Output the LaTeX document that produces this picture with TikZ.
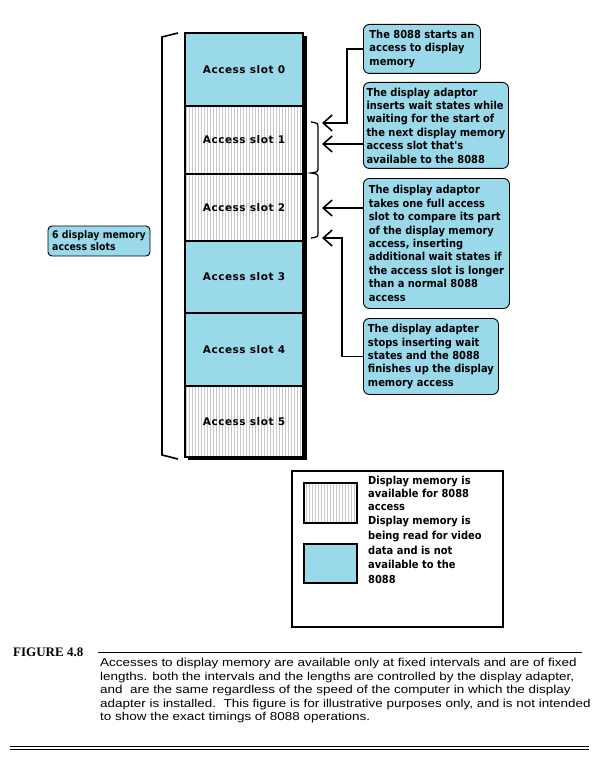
\documentclass[tikz,border=0pt]{standalone}
\usepackage{fontspec}
\newfontfamily\boxfont[FakeStretch=0.9]{DejaVu Sans}
\newfontfamily\slotfont[LetterSpace=5]{DejaVu Sans}
\newfontfamily\capfont[FakeStretch=1.17]{Liberation Sans}
\newfontfamily\figfont{Liberation Serif}
\usetikzlibrary{arrows.meta,patterns}
\definecolor{memblue}{RGB}{153,217,234}

\begin{document}
\begin{tikzpicture}[x=1pt, y=-1pt,
    slot/.style={draw, line width=2pt, minimum width=118pt, minimum height=#1pt, inner sep=0pt,
      font=\slotfont\bfseries\fontsize{10.5}{12}\selectfont},
    busy/.style={slot=#1, fill=memblue},
    free/.style={slot=#1, preaction={fill=white}, pattern=vertical lines, pattern color=black!22},
    note/.style={draw, line width=0.9pt, rounded corners=6pt, fill=memblue, align=left,
      anchor=north west, inner sep=3pt, font=\boxfont\bfseries\fontsize{11}{13.4}\selectfont},
    keytext/.style={anchor=north west, align=left, inner sep=0pt,
      font=\boxfont\bfseries\fontsize{11}{14.8}\selectfont},
    arr/.style={-{Straight Barb[length=9pt,width=16pt]}, line width=1.6pt}]

    % 背景
    \fill[white] (0,0) rectangle (606,778);
    \useasboundingbox (0,0) rectangle (606,778);

    % スロットの影
    \fill (188,36) rectangle (307,460);

    % アクセススロット
    \node[busy=73] (s0) at (244,69.5) {Access slot 0};
    \node[free=68] (s1) at (244,140) {Access slot 1};
    \node[free=67] (s2) at (244,207.5) {Access slot 2};
    \node[busy=72] (s3) at (244,277) {Access slot 3};
    \node[busy=73] (s4) at (244,349.5) {Access slot 4};
    \node[free=71] (s5) at (244,421.5) {Access slot 5};

    % 左の括弧とラベル
    \draw[line width=1.6pt] (178,33) -- (162,37) -- (162,455) -- (178,459);
    \node[note, anchor=center, rounded corners=4pt, minimum width=102pt, minimum height=30pt,
      font=\boxfont\bfseries\fontsize{10.4}{12.2}\selectfont] (lbl) at (99,241) {6 display memory\\access slots};

    % 右の括弧
    \draw[line width=1.3pt] (311,122) .. controls (318,123) .. (318,129) -- (318,167)
      .. controls (318,172) .. (311,173) .. controls (318,174) .. (318,179) -- (318,232)
      .. controls (318,237) .. (311,238);

    % 説明の吹き出し
    \node[note, minimum width=117pt, minimum height=49pt] (c1) at (363,24)
      {The 8088 starts an\\access to display\\memory};
    \node[note, minimum width=145pt, minimum height=86pt] (c2) at (363,82)
      {The display adaptor\\inserts wait states while\\waiting for the start of\\the next display memory\\access slot that's\\available to the 8088};
    \node[note, minimum width=146pt, minimum height=130pt] (c3) at (363,178)
      {The display adaptor\\takes one full access\\slot to compare its part\\of the display memory\\access, inserting\\additional wait states if\\the access slot is longer\\than a normal 8088\\access};
    \node[note, minimum width=135pt, minimum height=76pt] (c4) at (363,318)
      {The display adapter\\stops inserting wait\\states and the 8088\\finishes up the display\\memory access};

    % 矢印
    \coordinate (t1) at (322,123);
    \coordinate (t2) at (322,144);
    \coordinate (t3) at (322,208);
    \coordinate (t4) at (322,238);
    \draw[arr] (c1.west) -- ++(-16,0) |- (t1);
    \draw[arr] (c2.west |- t2) -- (t2);
    \draw[arr] (c3.west |- t3) -- (t3);
    \draw[arr] (c4.west) -- ++(-21,0) |- (t4);

    % 凡例
    \draw[line width=2pt] (292,471) rectangle (503,627);
    \node[free=40, minimum width=53pt] (kfree) at (330.5,503) {};
    \node[busy=39, minimum width=53pt] (kbusy) at (330.5,563.5) {};
    \node[keytext, font=\boxfont\bfseries\fontsize{11}{13}\selectfont] (kt1) at (368,476) {Display memory is\\available for 8088\\access};
    \node[keytext] (kt2) at (368,516) {Display memory is\\being read for video\\data and is not\\available to the\\8088};

    % キャプション
    \node[anchor=base west, inner sep=0pt, font=\figfont\bfseries\fontsize{13}{14}\selectfont] (fig) at (13,656) {FIGURE 4.8};
    \draw[line width=1pt] (98,652) -- (582,652);
    \node[anchor=north west, inner sep=0pt, align=left, font=\capfont\fontsize{11.5}{13.5}\selectfont] (cap) at (100,658)
      {Accesses to display memory are available only at fixed intervals and are of fixed\\lengths. both the intervals and the lengths are controlled by the display adapter,\\and\ \ are the same regardless of the speed of the computer in which the display\\adapter is installed.\ \ This figure is for illustrative purposes only, and is not intended\\to show the exact timings of 8088 operations.};
    \draw[line width=1pt] (10,746.8) -- (589,746.8);
    \draw[line width=1pt] (10,749.6) -- (589,749.6);
\end{tikzpicture}
\end{document}
